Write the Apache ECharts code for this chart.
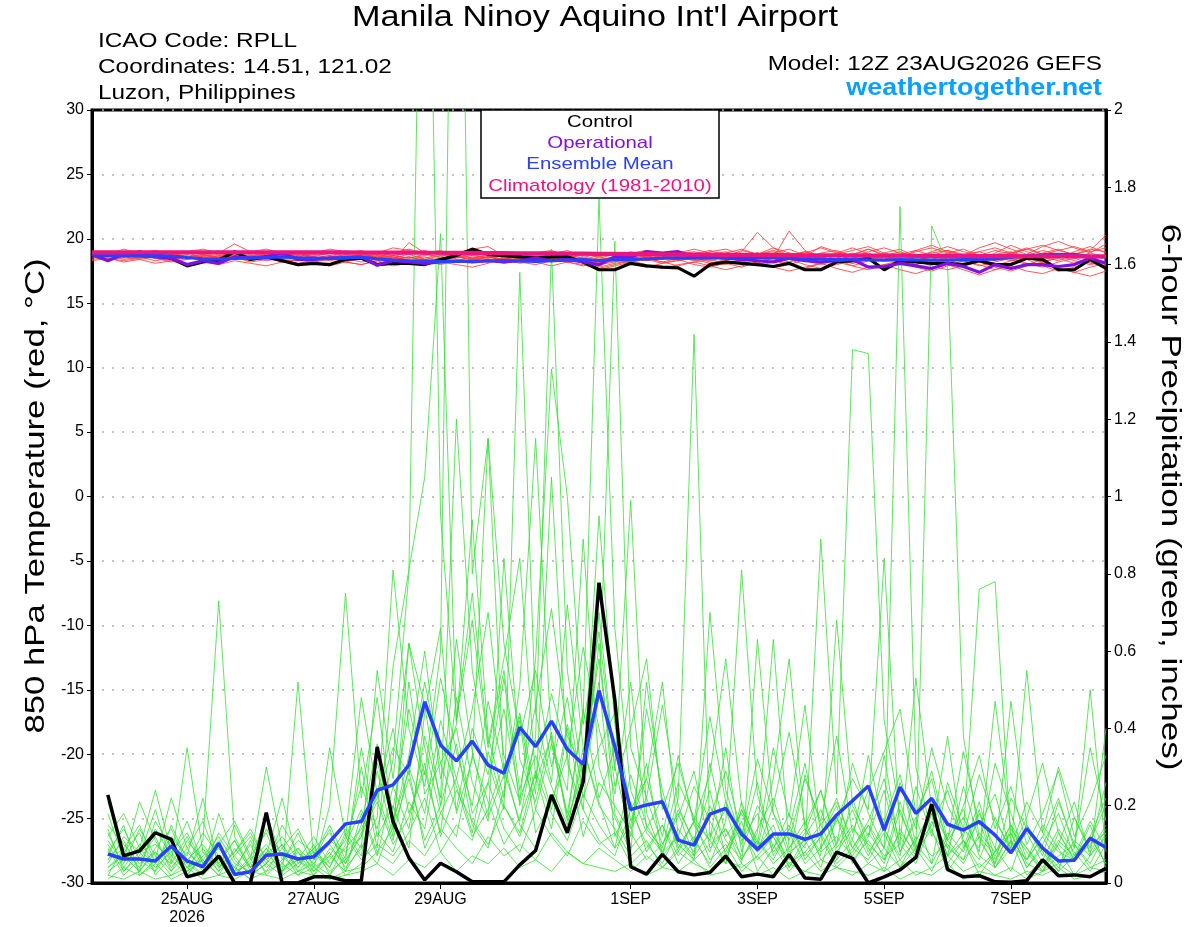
<!DOCTYPE html>
<html><head><meta charset="utf-8">
<script src="https://cdn.jsdelivr.net/npm/echarts@6/dist/echarts.min.js"></script>
<style>html,body{margin:0;padding:0;background:#fff}#c{width:1200px;height:927px}</style>
</head><body><div id="c"></div>
<script>
// ---- tick labels (index into 6-hourly steps from 12Z 23AUG2026) ----
const tickIndex = [6, 14, 22, 34, 42, 50, 58];
const tickText = ['25AUG\n2026', '27AUG', '29AUG', '1SEP', '3SEP', '5SEP', '7SEP'];

// ---- control / operational / mean / climatology 850 hPa temperature (°C), 65 steps ----
const controlTemp = [
18.7,18.8,18.7,19.0,18.7,18.5,17.9,18.2,18.35,19.0,18.4,18.6,18.3,
18.0,18.1,18.0,18.4,18.5,18.0,18.1,18.1,18.0,18.4,18.7,19.2,18.8,
18.7,18.6,18.5,18.6,18.6,18.2,17.6,17.6,18.1,17.9,17.8,17.75,17.1,
18.0,18.2,18.1,18.0,17.85,18.1,17.6,17.6,18.2,18.3,18.5,17.6,18.3,
18.2,18.1,18.1,18.0,18.3,18.0,18.0,18.5,18.4,17.6,17.6,18.4,17.7];
const operationalTemp = [
18.8,18.3,18.8,18.7,18.6,18.5,18.0,18.3,18.1,18.6,18.5,18.6,18.9,
18.4,18.4,18.5,18.5,18.6,17.95,18.3,18.2,18.1,18.2,18.3,18.2,18.3,
18.2,18.3,18.5,18.3,18.4,18.2,18.0,18.6,18.6,19.0,18.9,19.0,18.6,
18.6,18.5,18.4,18.3,18.2,18.5,18.3,18.2,18.3,18.4,17.8,17.85,18.1,
17.9,17.7,18.1,17.85,17.4,18.0,17.7,18.0,18.0,17.85,18.0,18.5,18.1];
const meanTemp = [
18.75,18.72,18.70,18.68,18.70,18.66,18.55,18.45,18.42,18.48,18.52,18.55,18.60,
18.52,18.50,18.48,18.55,18.58,18.45,18.35,18.30,18.28,18.25,18.24,18.26,18.30,
18.32,18.28,18.25,18.30,18.35,18.38,18.32,18.36,18.40,18.45,18.50,18.52,18.50,
18.52,18.55,18.53,18.55,18.52,18.48,18.45,18.42,18.40,18.38,18.36,18.35,18.38,
18.36,18.34,18.35,18.38,18.40,18.42,18.55,18.68,18.75,18.80,18.78,18.65,18.58];
const climTemp = [
18.95,18.95,18.95,18.96,18.96,18.96,18.96,18.96,18.96,18.96,18.96,18.96,18.96,
18.95,18.95,18.95,18.95,18.94,18.94,18.93,18.93,18.92,18.92,18.91,18.91,18.90,
18.89,18.88,18.88,18.87,18.86,18.85,18.84,18.83,18.82,18.81,18.80,18.79,18.78,
18.77,18.76,18.76,18.75,18.74,18.73,18.72,18.72,18.71,18.70,18.70,18.69,18.69,
18.68,18.68,18.67,18.67,18.66,18.66,18.66,18.65,18.65,18.65,18.64,18.64,18.64];

// ---- control / mean 6-hour precipitation (inches), steps 1..64 ----
const controlPrecip = [
0.228,0.07,0.083,0.13,0.113,0.016,0.027,0.07,0,0,0.182,0,0,0.016,0.016,0.006,
0.006,0.352,0.159,0.065,0.008,0.051,0.029,0.003,0.003,0.003,0.047,0.084,0.228,0.13,0.262,0.777,
0.473,0.042,0.023,0.074,0.029,0.021,0.027,0.07,0.016,0.023,0.016,0.074,0.013,0.01,0.08,0.064,
0,0.016,0.034,0.066,0.204,0.035,0.016,0.019,0.003,0.002,0.006,0.06,0.019,0.021,0.016,0.038];
const meanPrecip = [
0.075,0.062,0.062,0.057,0.096,0.057,0.042,0.103,0.022,0.029,0.072,0.075,0.062,0.068,0.107,0.153,
0.159,0.24,0.254,0.305,0.469,0.357,0.316,0.367,0.305,0.284,0.403,0.353,0.419,0.346,0.307,0.498,
0.353,0.19,0.202,0.21,0.111,0.098,0.178,0.193,0.127,0.087,0.127,0.127,0.113,0.127,0.176,0.213,
0.251,0.137,0.248,0.18,0.219,0.152,0.137,0.159,0.124,0.078,0.141,0.09,0.057,0.059,0.116,0.092];

// ---- ensemble member temperatures (°C), 65 steps each ----
const memberTemp = [
[18.8,18.9,18.7,18.6,18.9,18.5,18.4,18.7,18.6,18.9,18.5,18.7,18.4,
18.3,18.6,18.5,18.8,18.4,18.6,18.3,19.7,18.9,18.5,18.7,18.3,18.6,
18.4,18.8,18.6,18.2,18.7,18.5,17.9,18.4,18.8,18.6,18.9,18.3,18.5,
18.8,18.4,19.0,20.5,19.3,18.7,18.4,18.9,19.1,18.6,18.3,18.9,19.2,
18.6,18.4,18.9,19.2,18.7,18.3,18.9,19.3,18.8,18.5,19.0,19.4,18.9],
[18.9,18.6,18.8,18.9,18.6,18.8,18.6,18.3,18.5,18.7,18.9,18.6,18.8,
18.5,18.3,18.6,18.9,19.1,18.7,18.5,18.8,18.4,18.7,18.9,19.2,18.6,
18.3,18.5,18.8,18.6,18.4,18.9,18.6,18.3,18.5,18.7,18.4,18.8,19.0,
18.7,18.3,18.6,18.9,18.5,20.6,19.1,18.6,18.3,18.8,19.2,18.7,18.4,
18.2,18.7,19.1,18.8,18.4,18.9,19.5,19.0,18.6,18.3,18.8,19.1,20.3],
[18.3,18.5,18.2,18.4,18.1,18.3,17.9,18.2,18.0,18.3,18.1,17.9,18.2,
18.4,18.1,17.9,18.2,18.0,18.3,17.9,18.1,18.4,18.2,18.0,17.8,18.1,
18.6,18.2,18.0,18.3,18.5,18.1,17.7,18.0,18.3,18.5,18.2,17.9,18.2,
18.4,18.1,17.8,18.2,18.5,18.0,17.7,18.1,18.4,17.9,17.6,18.0,18.3,
17.8,17.5,17.9,18.3,18.0,17.6,18.1,18.4,17.9,17.5,17.8,18.2,17.8],
[19.0,18.8,19.2,18.9,19.1,18.8,19.0,19.2,18.9,19.6,19.0,19.2,18.9,
18.7,18.9,19.2,19.0,18.7,18.9,19.3,19.1,18.8,19.0,18.8,19.2,19.4,
18.7,18.5,18.9,19.1,18.6,18.4,18.2,18.7,19.0,18.8,18.5,18.9,19.2,
18.9,18.6,19.1,18.8,19.3,18.9,18.6,19.4,19.0,18.7,19.2,18.8,18.5,
19.1,19.5,19.0,18.7,19.3,19.7,19.2,18.8,19.4,19.8,19.3,18.9,19.6],
[18.5,18.7,18.4,18.6,18.3,18.5,18.7,18.4,18.2,18.5,18.3,18.6,18.4,
18.1,18.3,18.6,18.2,18.0,18.3,18.5,18.2,18.4,18.1,18.3,18.6,18.4,
18.1,18.4,18.2,17.9,18.2,18.4,17.8,18.1,18.3,18.0,17.7,18.0,18.2,
17.9,17.6,17.9,18.2,17.8,17.5,17.8,18.1,17.7,17.4,17.8,18.0,17.6,
17.3,17.7,18.0,17.6,17.2,17.6,17.9,17.5,17.3,17.7,17.4,17.1,17.5],
[18.9,19.0,18.8,18.7,18.9,18.8,18.5,18.7,18.9,18.6,18.8,18.5,18.7,
18.9,18.6,18.4,18.7,18.9,18.5,18.7,18.9,19.1,18.7,18.9,18.5,18.8,
19.0,18.7,18.5,18.8,19.1,18.6,18.3,18.6,18.9,19.1,18.7,18.4,18.7,
19.0,19.2,18.8,18.5,18.9,19.2,18.7,18.5,18.9,19.3,18.8,18.4,18.8,
19.1,18.7,18.4,18.8,19.0,18.6,18.3,18.7,19.1,18.8,18.5,18.9,18.6],
[18.6,18.4,18.6,18.8,18.5,18.3,18.6,18.8,18.4,18.6,18.2,18.4,18.7,
18.5,18.2,18.4,18.7,18.4,18.1,18.4,18.6,18.3,18.0,18.3,18.5,18.2,
18.5,18.7,18.3,18.5,18.2,18.0,17.6,17.9,18.2,18.4,18.1,18.3,18.6,
18.2,18.0,18.4,18.7,18.3,18.0,18.4,18.6,18.2,17.9,18.3,18.6,18.2,
18.0,18.4,18.7,18.3,17.9,18.2,18.5,18.1,17.8,18.2,18.5,18.1,17.9],
[18.8,18.6,18.7,18.5,18.7,18.9,18.6,18.4,18.7,18.9,18.6,18.4,18.6,
18.8,18.5,18.7,18.4,18.6,18.8,18.5,18.3,18.5,18.8,18.6,18.4,18.6,
18.9,18.6,18.4,18.6,18.9,18.7,18.4,18.6,18.3,18.6,18.9,18.6,18.3,
18.5,18.8,18.5,18.2,18.6,18.9,18.5,18.2,18.5,18.9,18.6,18.3,18.7,
18.4,18.1,18.5,18.8,18.4,18.6,18.9,18.5,18.2,18.6,18.9,18.5,18.7],
[18.7,18.9,18.6,18.4,18.6,18.4,18.6,18.3,18.5,18.7,18.4,18.7,18.9,
18.6,18.8,18.5,18.3,18.5,18.8,18.6,18.4,18.6,18.3,18.5,18.7,18.9,
18.5,18.3,18.6,18.4,18.2,18.4,18.0,18.2,18.5,18.3,18.6,18.8,18.4,
18.1,18.4,18.6,18.9,18.5,18.2,18.5,18.8,18.4,18.1,18.5,18.7,19.0,
18.6,18.3,18.6,18.2,18.5,18.8,18.4,18.0,18.4,18.7,18.3,18.0,18.3],
[18.6,18.7,18.9,18.8,18.6,18.7,18.9,18.6,18.8,18.5,18.7,18.8,18.5,
18.6,18.9,18.7,18.5,18.8,18.6,18.9,19.2,18.9,19.1,18.7,18.5,18.7,
18.4,18.6,18.8,18.5,18.7,18.9,18.5,18.8,18.6,18.4,18.7,19.0,18.7,
18.5,18.9,19.2,18.8,19.0,18.6,18.9,19.3,18.9,18.6,19.0,19.3,18.9,
18.6,19.0,19.4,19.0,18.7,19.1,18.8,19.2,19.5,19.1,18.8,19.2,19.0],
[18.4,18.6,18.5,18.7,18.5,18.2,18.4,18.6,18.3,18.5,18.7,18.5,18.2,
18.4,18.6,18.3,18.5,18.2,18.4,18.6,18.3,18.1,18.3,18.6,18.4,18.2,
18.4,18.1,18.3,18.5,18.2,17.9,18.2,18.4,18.1,17.8,18.1,18.4,18.0,
17.8,18.1,18.3,17.9,18.2,18.4,18.0,17.7,18.0,18.3,17.9,17.7,18.1,
18.3,17.9,17.6,17.9,18.2,17.8,17.5,17.9,18.2,17.7,17.4,17.8,18.1],
[18.8,18.6,18.8,18.9,18.7,18.9,18.6,18.8,18.5,18.8,18.6,18.9,18.7,
18.5,18.7,18.9,18.6,18.8,18.5,18.7,18.5,18.8,18.6,18.9,18.7,18.5,
18.8,18.9,18.7,19.0,18.8,18.5,18.2,18.5,18.8,18.6,18.9,18.6,18.8,
19.1,18.7,18.5,18.8,19.1,18.7,19.0,18.6,18.8,19.1,19.4,18.9,18.6,
19.0,19.3,18.9,18.6,19.0,19.3,18.9,19.2,18.8,19.1,19.4,19.0,19.3],
[18.7,18.5,18.3,18.5,18.7,18.4,18.6,18.3,18.6,18.4,18.6,18.3,18.5,
18.7,18.3,18.5,18.2,18.5,18.7,18.4,18.6,18.3,18.5,18.2,18.4,18.6,
18.3,18.5,18.7,18.4,18.6,18.3,18.1,18.4,18.2,18.5,18.2,18.5,18.7,
18.3,18.6,18.2,18.0,18.3,18.6,18.3,18.0,18.4,18.1,18.4,18.7,18.3,
18.0,18.4,18.1,18.5,18.2,17.9,18.3,18.6,18.2,18.5,18.1,18.4,18.0],
[18.9,18.8,18.6,18.9,18.7,18.6,18.8,18.5,18.7,18.4,18.6,18.8,18.6,
18.9,18.6,18.4,18.8,18.6,18.9,18.7,18.5,18.7,19.0,18.6,18.8,18.5,
18.7,18.9,18.6,18.3,18.6,18.8,18.6,18.9,18.6,18.3,18.6,18.9,18.5,
18.8,19.0,18.6,18.9,18.5,18.7,19.0,18.6,18.3,18.7,18.9,18.5,18.2,
18.6,18.9,19.1,18.7,18.4,18.8,19.0,18.6,18.9,19.2,18.7,18.4,18.7]
];

// ---- ensemble member 6-hour precipitation (inches), steps 1..64 each ----
const memberPrecip = [
[0.05,0.12,0.08,0.03,0.15,0.06,0.02,0.10,0.04,0.01,0.08,0.03,0.06,0.12,0.05,0.09,
0.14,0.22,0.35,0.28,0.52,0.31,0.40,0.18,0.26,0.45,0.22,0.33,0.19,0.41,0.25,0.62,
0.18,0.09,0.14,0.22,0.08,0.16,0.11,0.05,0.19,0.08,0.12,0.04,0.10,0.15,0.06,0.22,
0.09,0.03,0.14,0.07,0.18,0.05,0.11,0.02,0.08,0.13,0.04,0.09,0.03,0.07,0.12,0.05],
[0.18,0.06,0.21,0.11,0.04,0.09,0.16,0.05,0.02,0.07,0.13,0.03,0.08,0.02,0.06,0.11,
0.25,0.14,0.32,0.80,3.20,0.95,0.42,0.68,0.35,0.55,0.24,0.46,0.71,0.38,0.29,0.52,
0.12,0.21,0.08,0.15,0.05,0.11,0.24,0.07,0.16,0.03,0.09,0.18,0.06,0.12,0.04,0.08,
0.15,0.06,0.21,0.09,0.03,0.12,0.19,0.07,0.04,0.11,0.02,0.06,0.14,0.08,0.03,0.10],
[0.02,0.09,0.04,0.14,0.07,0.03,0.11,0.73,0.12,0.04,0.09,0.02,0.05,0.08,0.03,0.06,
0.12,0.31,0.19,0.45,0.28,0.60,3.50,0.80,1.15,0.62,0.38,0.55,0.30,0.48,0.22,0.35,
0.44,0.19,0.27,0.12,0.33,0.15,0.08,0.21,0.10,0.26,0.07,0.14,0.31,0.09,0.17,0.05,
0.12,0.24,0.08,0.16,0.29,0.11,0.06,0.18,0.09,0.03,0.15,0.07,0.21,0.10,0.05,0.13],
[0.10,0.03,0.07,0.19,0.05,0.35,0.08,0.03,0.15,0.06,0.30,0.09,0.04,0.10,0.02,0.07,
0.30,0.09,0.56,0.81,1.05,1.68,0.42,0.75,0.36,0.58,0.84,0.27,0.49,0.33,0.61,0.40,
0.23,0.52,0.14,0.09,0.26,0.17,0.11,0.35,0.08,0.20,0.13,0.06,0.28,0.15,0.21,0.11,
0.33,0.14,0.07,0.25,0.12,0.38,0.09,0.16,0.05,0.22,0.14,0.08,0.03,0.17,0.09,0.26],
[0.07,0.15,0.02,0.06,0.11,0.04,0.09,0.03,0.07,0.12,0.05,0.02,0.52,0.06,0.14,0.03,
0.18,0.07,0.25,0.14,0.38,0.22,1.20,0.55,0.31,0.19,1.58,0.44,0.26,0.72,0.35,0.21,
0.09,0.15,0.31,0.07,0.22,1.42,0.12,0.19,0.06,0.14,0.22,0.08,0.11,0.04,0.17,0.09,
0.06,0.13,0.04,0.09,0.18,0.07,0.25,0.11,0.05,0.14,0.08,0.03,0.10,0.06,0.15,0.04],
[0.13,0.04,0.10,0.06,0.22,0.09,0.03,0.18,0.06,0.02,0.05,0.15,0.08,0.04,0.20,0.75,
0.22,0.48,0.15,0.33,0.60,0.27,0.41,0.94,0.38,0.22,0.51,1.15,0.36,0.18,0.43,1.77,
0.66,0.24,0.13,0.08,0.19,0.11,0.05,0.16,0.81,0.23,0.09,0.15,0.07,0.12,0.20,0.06,
0.11,0.05,0.19,0.08,0.14,0.03,0.09,0.21,0.06,0.13,0.04,0.10,0.18,0.07,0.12,0.05],
[0.04,0.08,0.13,0.02,0.07,0.16,0.05,0.09,0.03,0.11,0.04,0.08,0.02,0.06,0.10,0.04,
0.09,0.17,0.81,0.40,0.25,0.53,0.34,0.20,0.47,0.29,0.16,0.38,1.64,0.55,0.26,0.48,
1.66,0.35,0.22,0.10,0.17,0.29,0.09,0.14,0.05,0.63,0.18,0.07,0.13,0.24,0.09,0.15,
0.07,0.16,0.28,0.10,0.05,0.13,0.08,0.19,0.04,0.11,0.06,0.15,0.09,0.02,0.07,0.12],
[0.21,0.07,0.03,0.09,0.14,0.05,0.02,0.06,0.11,0.03,0.07,0.22,0.05,0.09,0.04,0.13,
0.07,0.29,0.12,0.62,0.35,0.18,0.27,0.45,0.70,0.33,0.21,0.58,1.33,1.00,0.41,0.65,
0.29,0.99,0.18,0.07,0.12,0.25,0.16,0.08,0.19,0.11,0.06,0.14,0.09,0.89,0.23,1.38,
1.37,0.42,0.18,0.09,0.15,0.24,0.11,0.06,0.17,0.08,0.13,0.05,0.10,0.21,0.07,0.14],
[0.09,0.02,0.06,0.12,0.03,0.08,0.04,0.13,0.07,0.02,0.05,0.10,0.03,0.07,0.15,0.06,
0.35,0.12,0.20,0.09,0.44,0.66,0.18,0.32,1.15,0.27,0.43,0.19,0.36,0.24,0.89,0.30,
0.17,0.08,0.52,0.21,0.10,0.06,0.31,0.12,0.18,0.09,0.27,0.58,0.14,0.07,0.68,0.20,
0.12,0.33,0.08,0.17,0.05,0.26,0.14,0.09,0.31,0.18,0.06,0.12,0.22,0.09,0.35,0.16],
[0.15,0.10,0.05,0.08,0.03,0.11,0.06,0.02,0.09,0.04,0.14,0.07,0.03,0.05,0.11,0.08,
0.12,0.23,0.40,0.18,0.29,0.13,0.48,0.26,0.16,0.84,0.32,0.21,0.39,0.17,0.28,0.95,
0.41,0.16,0.27,0.52,0.12,0.07,0.70,0.24,0.11,0.18,0.08,0.13,0.05,0.09,0.16,0.27,
0.19,0.84,0.12,0.06,0.22,0.11,0.17,0.08,0.47,0.14,0.09,0.03,0.13,0.06,0.11,0.20],
[0.03,0.06,0.09,0.04,0.08,0.02,0.07,0.12,0.05,0.03,0.09,0.04,0.06,0.03,0.08,0.02,
0.05,0.13,0.08,0.21,0.14,0.37,0.25,0.12,0.19,0.31,0.15,0.09,0.22,0.14,0.35,0.20,
0.14,0.07,0.11,0.04,0.09,0.16,0.06,0.10,0.03,0.07,0.12,0.05,0.08,0.03,0.06,0.11,
0.05,0.09,1.75,0.30,0.13,0.07,0.11,0.04,0.08,0.15,0.05,0.03,0.07,0.10,0.04,0.06],
[0.11,0.05,0.14,0.07,0.02,0.06,0.10,0.04,0.08,0.13,0.06,0.03,0.09,0.05,0.02,0.10,
0.19,0.08,0.14,0.27,0.11,0.20,0.36,0.15,0.09,0.24,0.42,0.13,0.21,0.33,0.12,0.26,
0.20,0.13,0.06,0.10,0.18,0.07,0.13,0.05,0.21,0.09,0.15,0.04,0.12,0.19,0.08,0.14,
0.10,0.06,0.13,0.08,1.70,1.60,0.38,0.12,0.07,0.15,0.09,0.04,0.11,0.07,0.16,0.09],
[0.06,0.11,0.03,0.08,0.05,0.12,0.04,0.07,0.02,0.06,0.10,0.05,0.13,0.04,0.07,0.03,
0.10,0.05,0.16,0.29,0.09,0.18,0.12,0.33,0.21,0.10,0.17,0.28,0.14,0.40,0.19,0.11,
0.07,0.19,0.10,0.05,0.14,0.08,0.20,0.11,0.06,0.13,0.63,0.09,0.16,0.06,0.10,0.19,
0.08,0.14,0.06,0.11,0.19,0.07,0.13,0.76,0.78,0.10,0.06,0.12,0.05,0.09,0.50,0.08],
[0.08,0.14,0.06,0.03,0.09,0.05,0.13,0.07,0.04,0.10,0.02,0.06,0.11,0.08,0.04,0.12,
0.06,0.10,0.07,0.13,0.22,0.08,0.15,0.11,0.26,0.14,0.08,0.19,0.12,0.07,0.16,0.10,
0.13,0.05,0.09,0.15,0.07,0.12,0.04,0.09,0.14,0.06,0.10,0.03,0.08,0.13,0.05,0.09,
0.15,0.09,0.04,0.12,0.07,0.10,0.05,0.13,0.08,0.47,0.15,0.09,0.04,0.11,0.07,0.40],
[0.14,0.03,0.08,0.10,0.06,0.02,0.08,0.05,0.11,0.04,0.07,0.12,0.06,0.02,0.09,0.05,
0.13,0.21,0.10,0.17,0.31,0.12,0.24,0.16,0.10,0.20,0.13,0.29,0.18,0.11,0.23,0.15,
0.09,0.28,0.15,0.08,0.12,0.06,0.10,0.14,0.07,0.11,0.05,0.09,0.14,0.08,0.12,0.07,
0.13,0.07,0.10,0.05,0.16,0.09,0.06,0.12,0.04,0.09,0.55,0.13,0.08,0.06,0.10,0.13],
[0.01,0.04,0.02,0.05,0.01,0.03,0.06,0.02,0.04,0.01,0.03,0.05,0.02,0.04,0.01,0.03,
0.04,0.08,0.05,0.11,0.07,0.14,0.09,0.05,0.12,0.07,0.10,0.06,0.13,0.08,0.05,0.09,
0.06,0.03,0.07,0.04,0.08,0.05,0.03,0.06,0.04,0.07,0.02,0.05,0.03,0.06,0.04,0.02,
0.05,0.03,0.06,0.02,0.04,0.07,0.03,0.05,0.02,0.04,0.01,0.03,0.05,0.02,0.04,0.03],
[0.02,0.01,0.03,0.01,0.02,0.04,0.01,0.02,0.01,0.03,0.02,0.01,0.03,0.02,0.01,0.02,
0.03,0.05,0.02,0.06,0.04,0.08,0.03,0.07,0.05,0.09,0.04,0.06,0.03,0.08,0.05,0.04,
0.03,0.05,0.02,0.04,0.03,0.06,0.02,0.03,0.05,0.02,0.04,0.01,0.03,0.02,0.04,0.03,
0.02,0.04,0.01,0.03,0.02,0.05,0.01,0.03,0.02,0.01,0.03,0.02,0.04,0.01,0.02,0.03],
[0.12,0.18,0.09,0.24,0.08,0.13,0.05,0.10,0.16,0.07,0.03,0.09,0.14,0.06,0.35,0.12,
0.48,0.23,0.11,0.30,0.18,0.42,0.27,0.13,0.34,0.20,0.12,0.26,0.38,0.16,0.45,0.22,
0.35,0.14,0.22,0.46,0.20,0.10,0.17,0.29,0.13,0.08,0.20,0.39,0.15,0.24,0.10,0.31,
0.18,0.09,0.26,0.14,0.35,0.20,0.12,0.28,0.16,0.09,0.21,0.13,0.30,0.17,0.08,0.15],
[0.06,0.09,0.15,0.05,0.12,0.07,0.22,0.04,0.08,0.14,0.06,0.10,0.04,0.09,0.13,0.05,
0.15,0.36,0.14,0.52,0.23,0.31,0.19,0.40,0.28,0.53,0.20,0.37,0.25,0.15,0.32,0.58,
0.25,0.40,0.58,0.19,0.31,0.16,0.43,0.21,0.12,0.32,0.18,0.11,0.27,0.16,0.38,0.13,
0.24,0.34,0.45,0.18,0.27,0.09,0.20,0.33,0.14,0.25,0.10,0.18,0.29,0.12,0.21,0.33],
[0.04,0.07,0.03,0.16,0.09,0.04,0.06,0.11,0.03,0.05,0.18,0.06,0.09,0.03,0.07,0.14,
0.09,0.55,0.27,0.62,0.46,0.20,0.63,0.34,0.17,0.28,0.44,0.23,1.05,0.31,0.19,0.70,
0.30,0.12,0.45,0.24,0.09,0.16,0.28,0.58,0.20,0.10,0.35,0.17,0.46,0.12,0.22,0.09,
0.16,0.27,0.10,0.53,0.19,0.11,0.34,0.15,0.23,0.08,0.17,0.31,0.13,0.06,0.12,0.22]
];

// ---- build the 6-hourly time categories (12Z 23AUG2026 .. 12Z 08SEP2026) ----
const monthNames = ['JAN','FEB','MAR','APR','MAY','JUN','JUL','AUG','SEP','OCT','NOV','DEC'];
const startMs = Date.UTC(2026, 7, 23, 12);
const steps = [];
for (let k = 0; k < 65; k++) {
  const d = new Date(startMs + k * 6 * 3600 * 1000);
  steps.push(String(d.getUTCHours()).padStart(2,'0') + 'Z' + d.getUTCDate() + monthNames[d.getUTCMonth()]);
}
const tickMap = {};
tickIndex.forEach((k, i) => { tickMap[k] = tickText[i]; });
const isTick = (idx) => tickMap.hasOwnProperty(idx);

const FONT = "'Liberation Sans', Arial, Helvetica, sans-serif";
const withGap = (arr) => [null].concat(arr);

const series = [];
memberTemp.forEach((m, i) => series.push({
  name: 'memT' + i, type: 'line', yAxisIndex: 0, data: m, symbol: 'none', silent: true,
  lineStyle: { color: 'rgba(255,60,60,0.85)', width: 1 }, z: 2
}));
memberPrecip.forEach((m, i) => series.push({
  name: 'memP' + i, type: 'line', yAxisIndex: 1, data: withGap(m), symbol: 'none', silent: true,
  lineStyle: { color: '#33e033', width: 0.8 }, z: 3
}));
series.push({ name: 'Control', type: 'line', yAxisIndex: 0, data: controlTemp, symbol: 'none',
  lineStyle: { color: '#000', width: 3.2 }, z: 5 });
series.push({ name: 'ControlP', type: 'line', yAxisIndex: 1, data: withGap(controlPrecip), symbol: 'none',
  lineStyle: { color: '#000', width: 3.5 }, z: 5 });
series.push({ name: 'Operational', type: 'line', yAxisIndex: 0, data: operationalTemp, symbol: 'none',
  lineStyle: { color: '#8010e0', width: 3.2 }, z: 6 });
series.push({ name: 'Ensemble Mean', type: 'line', yAxisIndex: 0, data: meanTemp, symbol: 'none',
  lineStyle: { color: '#2a40ff', width: 3.2 }, z: 7 });
series.push({ name: 'MeanP', type: 'line', yAxisIndex: 1, data: withGap(meanPrecip), symbol: 'none',
  lineStyle: { color: '#2a40ff', width: 3.5 }, z: 7 });
series.push({ name: 'Climatology', type: 'line', yAxisIndex: 0, data: climTemp, symbol: 'none',
  lineStyle: { color: '#ee1480', width: 4.2 }, z: 8 });

const txt = (x, y, text, font, fill, align, extra) => Object.assign({
  type: 'text', x: x, y: y, z: 50,
  style: { text: text, font: font, fill: fill, textAlign: align, textVerticalAlign: 'middle' }
}, extra || {});

const chart = echarts.init(document.getElementById('c'), null, { renderer: 'canvas' });
chart.setOption({
  animation: false,
  backgroundColor: '#fff',
  grid: { left: 92, right: 94, top: 110, bottom: 44, show: true, borderColor: '#000', borderWidth: 3, backgroundColor: 'transparent' },
  xAxis: {
    type: 'category', data: steps, boundaryGap: false,
    axisLine: { show: true, onZero: false, lineStyle: { color: '#000', width: 3 } },
    axisTick: { show: true, interval: isTick, length: 6, lineStyle: { color: '#000', width: 1 } },
    axisLabel: { interval: isTick, formatter: (v, idx) => tickMap[idx] || '', color: '#000',
      fontSize: 16, fontFamily: FONT, margin: 8, lineHeight: 18 },
    splitLine: { show: false }
  },
  yAxis: [{
    type: 'value', min: -30, max: 30, interval: 5, position: 'left',
    axisLine: { show: true, lineStyle: { color: '#000', width: 3 } },
    axisTick: { show: true, length: 5, lineStyle: { color: '#000', width: 1 } },
    axisLabel: { color: '#000', fontSize: 16, fontFamily: FONT, margin: 8 },
    splitLine: { show: true, lineStyle: { color: '#b0b0b0', width: 1.5, type: [2, 8] } }
  }, {
    type: 'value', min: 0, max: 2, interval: 0.2, position: 'right',
    axisLine: { show: true, lineStyle: { color: '#000', width: 3 } },
    axisTick: { show: true, length: 5, lineStyle: { color: '#000', width: 1 } },
    axisLabel: { color: '#000', fontSize: 16, fontFamily: FONT, margin: 8 },
    splitLine: { show: false }
  }],
  series: series,
  graphic: [
    txt(595, 18, "Manila Ninoy Aquino Int'l Airport", '29px ' + FONT, '#000', 'center', { scaleX: 1.18 }),
    txt(98, 41, 'ICAO Code: RPLL', '21px ' + FONT, '#000', 'left', { scaleX: 1.16 }),
    txt(98, 67, 'Coordinates: 14.51, 121.02', '21px ' + FONT, '#000', 'left', { scaleX: 1.16 }),
    txt(98, 93, 'Luzon, Philippines', '21px ' + FONT, '#000', 'left', { scaleX: 1.16 }),
    txt(1102, 64, 'Model: 12Z 23AUG2026 GEFS', '21px ' + FONT, '#000', 'right', { scaleX: 1.155 }),
    txt(1102, 89, 'weathertogether.net', 'bold 23px ' + FONT, '#0aa0ff', 'right', { scaleX: 1.17 }),
    txt(36, 496, '850 hPa Temperature (red, °C)', '28px ' + FONT, '#000', 'center', { rotation: Math.PI / 2, scaleX: 1.24 }),
    txt(1170, 497, '6-hour Precipitation (green, inches)', '28px ' + FONT, '#000', 'center', { rotation: -Math.PI / 2, scaleX: 1.25 }),
    { type: 'rect', z: 60, shape: { x: 481, y: 110, width: 238, height: 88 },
      style: { fill: '#fff', stroke: '#000', lineWidth: 1.5 } },
    txt(600, 122, 'Control', '17px ' + FONT, '#000', 'center', { z: 61, scaleX: 1.2 }),
    txt(600, 143, 'Operational', '17px ' + FONT, '#8010e0', 'center', { z: 61, scaleX: 1.2 }),
    txt(600, 164, 'Ensemble Mean', '17px ' + FONT, '#2a40ff', 'center', { z: 61, scaleX: 1.2 }),
    txt(600, 186, 'Climatology (1981-2010)', '17px ' + FONT, '#ee1480', 'center', { z: 61, scaleX: 1.2 })
  ]
});
</script>
</body></html>
